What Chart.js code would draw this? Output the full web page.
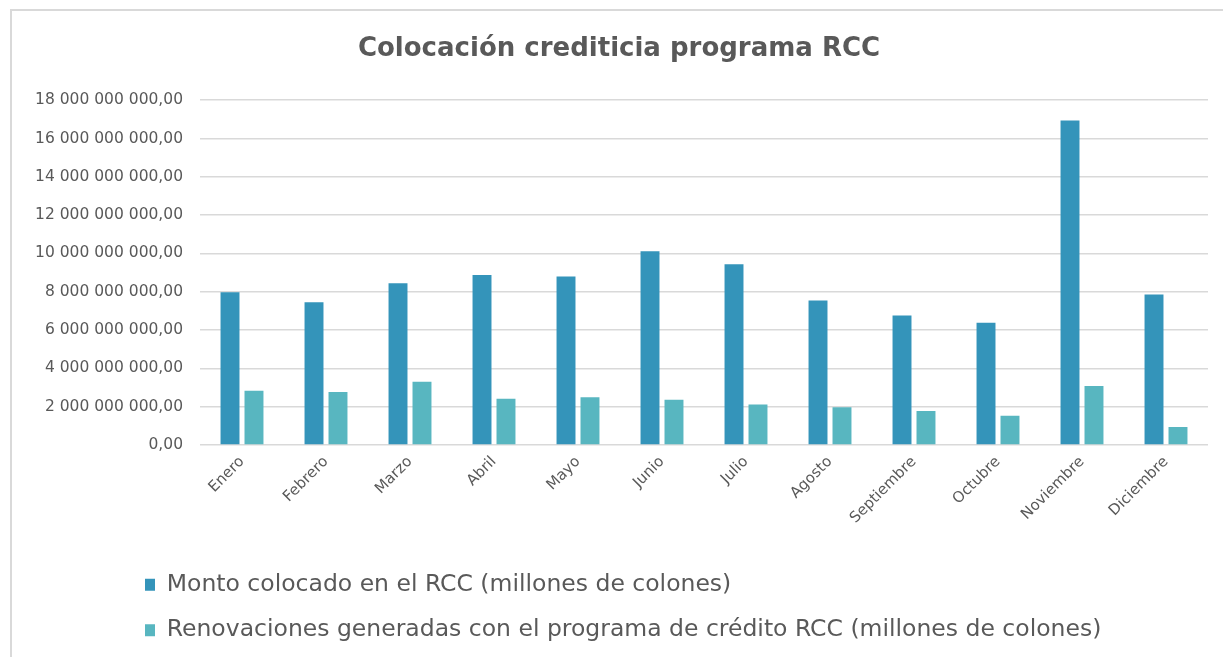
<!DOCTYPE html>
<html>
<head>
<meta charset="utf-8">
<script src="https://cdn.jsdelivr.net/npm/chart.js@4"></script>
<style>
  html, body { margin: 0; padding: 0; background: #ffffff; overflow: hidden; }
  #frame { position: absolute; left: 10px; top: 9px; width: 1400px; height: 800px;
           border-left: 2px solid #d9d9d9; border-top: 2px solid #d9d9d9; }
  #c { position: absolute; left: 0; top: 0; }
</style>
</head>
<body>
<div id="frame"></div>
<canvas id="c" width="1223" height="657"></canvas>
<script>
const categories = ["Enero", "Febrero", "Marzo", "Abril", "Mayo", "Junio", "Julio", "Agosto", "Septiembre", "Octubre", "Noviembre", "Diciembre"];
const montoColocado = [7980000000, 7450000000, 8450000000, 8880000000, 8800000000, 10120000000, 9440000000, 7550000000, 6760000000, 6380000000, 16940000000, 7860000000];
const renovaciones = [2830000000, 2770000000, 3300000000, 2410000000, 2490000000, 2360000000, 2110000000, 1970000000, 1780000000, 1530000000, 3080000000, 940000000];
const seriesNames = ["Monto colocado en el RCC (millones de colones)", "Renovaciones generadas con el programa de crédito RCC (millones de colones)"];
const titleText = "Colocación crediticia programa RCC";
const yMin = 0, yMax = 18000000000, yStep = 2000000000;

const FONT = "'DejaVu Sans', sans-serif";
const TXT = "#595959";
const LEGEND_PAD = 22;

function fmt(v) {
  return Math.round(v).toString().replace(/\B(?=(\d{3})+(?!\d))/g, " ") + ",00";
}

const legendShift = {
  id: "legendShift",
  afterLayout(chart) {
    const L = chart.legend;
    if (!L) return;
    const dx = 145 - (L.left + LEGEND_PAD);
    L.left += dx; L.right += dx;
  }
};

new Chart(document.getElementById("c"), {
  type: "bar",
  data: {
    labels: categories,
    datasets: [
      { label: seriesNames[0], data: montoColocado, backgroundColor: "#3494BA",
        borderWidth: 0, categoryPercentage: 0.571, barPercentage: 0.79 },
      { label: seriesNames[1], data: renovaciones, backgroundColor: "#58B6C0",
        borderWidth: 0, categoryPercentage: 0.571, barPercentage: 0.79 }
    ]
  },
  plugins: [legendShift],
  options: {
    responsive: false,
    animation: false,
    devicePixelRatio: 1,
    layout: { padding: { left: 30, right: 15, top: 10, bottom: 5 } },
    plugins: {
      title: {
        display: true, text: titleText, color: TXT,
        font: { family: FONT, size: 26, weight: "bold" },
        padding: { top: 24, bottom: 35 }
      },
      legend: {
        display: true, position: "bottom", align: "start",
        labels: {
          color: TXT, font: { family: FONT, size: 23.5 },
          boxWidth: 10, boxHeight: 12, padding: LEGEND_PAD
        }
      },
      tooltip: { enabled: false }
    },
    scales: {
      x: {
        grid: { display: false, drawTicks: false },
        border: { display: false },
        ticks: { color: TXT, font: { family: FONT, size: 15 }, maxRotation: 45, minRotation: 45, padding: 8, autoSkip: false },
        afterFit: (s) => { s.height = 106; }
      },
      y: {
        min: yMin, max: yMax,
        grid: { color: "#d9d9d9", lineWidth: 1.5, drawTicks: false },
        border: { display: false },
        ticks: { stepSize: yStep, color: TXT, font: { family: FONT, size: 15.5 }, padding: 17, callback: (v) => fmt(v) },
        afterFit: (s) => { s.width = 170; }
      }
    }
  }
});
</script>
</body>
</html>
